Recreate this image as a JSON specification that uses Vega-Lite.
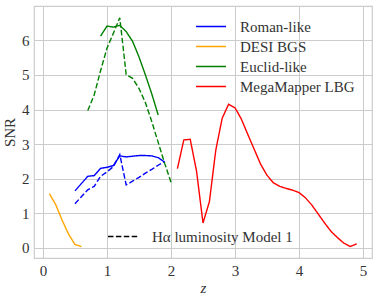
{
  "$schema": "https://vega.github.io/schema/vega-lite/v6.json",
  "width": 338,
  "height": 252,
  "autosize": "none",
  "padding": {"left": 34, "top": 6, "right": 7, "bottom": 41},
  "background": "white",
  "config": {
    "font": "Liberation Serif",
    "view": {"stroke": "#cccccc", "strokeWidth": 1.2},
    "axis": {
      "grid": true,
      "gridColor": "#cccccc",
      "gridWidth": 1,
      "domain": false,
      "ticks": false,
      "labelFontSize": 15,
      "labelColor": "#333333",
      "titleFontSize": 15,
      "titleColor": "#333333",
      "titleFontWeight": "normal"
    },
    "legend": {
      "labelFontSize": 15,
      "labelColor": "#333333",
      "padding": 0
    }
  },
  "data": {
    "values": [
      {"series": "Roman-like", "model": "fiducial", "z": 0.5, "snr": 1.65},
      {"series": "Roman-like", "model": "fiducial", "z": 0.6, "snr": 1.86},
      {"series": "Roman-like", "model": "fiducial", "z": 0.7, "snr": 2.07},
      {"series": "Roman-like", "model": "fiducial", "z": 0.8, "snr": 2.09},
      {"series": "Roman-like", "model": "fiducial", "z": 0.9, "snr": 2.3},
      {"series": "Roman-like", "model": "fiducial", "z": 1.0, "snr": 2.33},
      {"series": "Roman-like", "model": "fiducial", "z": 1.1, "snr": 2.38},
      {"series": "Roman-like", "model": "fiducial", "z": 1.2, "snr": 2.66},
      {"series": "Roman-like", "model": "fiducial", "z": 1.3, "snr": 2.63},
      {"series": "Roman-like", "model": "fiducial", "z": 1.4, "snr": 2.65},
      {"series": "Roman-like", "model": "fiducial", "z": 1.5, "snr": 2.67},
      {"series": "Roman-like", "model": "fiducial", "z": 1.6, "snr": 2.67},
      {"series": "Roman-like", "model": "fiducial", "z": 1.7, "snr": 2.66},
      {"series": "Roman-like", "model": "fiducial", "z": 1.8, "snr": 2.61},
      {"series": "Roman-like", "model": "fiducial", "z": 1.9, "snr": 2.48},
      {"series": "Roman-like", "model": "Hα luminosity Model 1", "z": 0.5, "snr": 1.28},
      {"series": "Roman-like", "model": "Hα luminosity Model 1", "z": 0.6, "snr": 1.48},
      {"series": "Roman-like", "model": "Hα luminosity Model 1", "z": 0.7, "snr": 1.68},
      {"series": "Roman-like", "model": "Hα luminosity Model 1", "z": 0.8, "snr": 1.78},
      {"series": "Roman-like", "model": "Hα luminosity Model 1", "z": 0.9, "snr": 2.07},
      {"series": "Roman-like", "model": "Hα luminosity Model 1", "z": 1.0, "snr": 2.2},
      {"series": "Roman-like", "model": "Hα luminosity Model 1", "z": 1.1, "snr": 2.35},
      {"series": "Roman-like", "model": "Hα luminosity Model 1", "z": 1.2, "snr": 2.7},
      {"series": "Roman-like", "model": "Hα luminosity Model 1", "z": 1.3, "snr": 1.82},
      {"series": "Roman-like", "model": "Hα luminosity Model 1", "z": 1.4, "snr": 1.93},
      {"series": "Roman-like", "model": "Hα luminosity Model 1", "z": 1.5, "snr": 2.04},
      {"series": "Roman-like", "model": "Hα luminosity Model 1", "z": 1.6, "snr": 2.16},
      {"series": "Roman-like", "model": "Hα luminosity Model 1", "z": 1.7, "snr": 2.27},
      {"series": "Roman-like", "model": "Hα luminosity Model 1", "z": 1.8, "snr": 2.39},
      {"series": "Roman-like", "model": "Hα luminosity Model 1", "z": 1.9, "snr": 2.5},
      {"series": "DESI BGS", "model": "fiducial", "z": 0.1, "snr": 1.57},
      {"series": "DESI BGS", "model": "fiducial", "z": 0.2, "snr": 1.25},
      {"series": "DESI BGS", "model": "fiducial", "z": 0.3, "snr": 0.8},
      {"series": "DESI BGS", "model": "fiducial", "z": 0.4, "snr": 0.4},
      {"series": "DESI BGS", "model": "fiducial", "z": 0.5, "snr": 0.1},
      {"series": "DESI BGS", "model": "fiducial", "z": 0.6, "snr": 0.04},
      {"series": "Euclid-like", "model": "fiducial", "z": 0.9, "snr": 6.12},
      {"series": "Euclid-like", "model": "fiducial", "z": 1.0, "snr": 6.41},
      {"series": "Euclid-like", "model": "fiducial", "z": 1.1, "snr": 6.38},
      {"series": "Euclid-like", "model": "fiducial", "z": 1.2, "snr": 6.43},
      {"series": "Euclid-like", "model": "fiducial", "z": 1.3, "snr": 6.25},
      {"series": "Euclid-like", "model": "fiducial", "z": 1.4, "snr": 5.97},
      {"series": "Euclid-like", "model": "fiducial", "z": 1.5, "snr": 5.52},
      {"series": "Euclid-like", "model": "fiducial", "z": 1.6, "snr": 5.0},
      {"series": "Euclid-like", "model": "fiducial", "z": 1.7, "snr": 4.45},
      {"series": "Euclid-like", "model": "fiducial", "z": 1.8, "snr": 3.84},
      {"series": "Euclid-like", "model": "Hα luminosity Model 1", "z": 0.7, "snr": 3.97},
      {"series": "Euclid-like", "model": "Hα luminosity Model 1", "z": 0.8, "snr": 4.42},
      {"series": "Euclid-like", "model": "Hα luminosity Model 1", "z": 0.9, "snr": 5.12},
      {"series": "Euclid-like", "model": "Hα luminosity Model 1", "z": 1.0, "snr": 5.77},
      {"series": "Euclid-like", "model": "Hα luminosity Model 1", "z": 1.1, "snr": 6.2},
      {"series": "Euclid-like", "model": "Hα luminosity Model 1", "z": 1.2, "snr": 6.65},
      {"series": "Euclid-like", "model": "Hα luminosity Model 1", "z": 1.3, "snr": 5.01},
      {"series": "Euclid-like", "model": "Hα luminosity Model 1", "z": 1.4, "snr": 4.9},
      {"series": "Euclid-like", "model": "Hα luminosity Model 1", "z": 1.5, "snr": 4.61},
      {"series": "Euclid-like", "model": "Hα luminosity Model 1", "z": 1.6, "snr": 4.2},
      {"series": "Euclid-like", "model": "Hα luminosity Model 1", "z": 1.7, "snr": 3.65},
      {"series": "Euclid-like", "model": "Hα luminosity Model 1", "z": 1.8, "snr": 3.05},
      {"series": "Euclid-like", "model": "Hα luminosity Model 1", "z": 1.9, "snr": 2.45},
      {"series": "Euclid-like", "model": "Hα luminosity Model 1", "z": 2.0, "snr": 1.9},
      {"series": "MegaMapper LBG", "model": "fiducial", "z": 2.1, "snr": 2.29},
      {"series": "MegaMapper LBG", "model": "fiducial", "z": 2.2, "snr": 3.12},
      {"series": "MegaMapper LBG", "model": "fiducial", "z": 2.3, "snr": 3.14},
      {"series": "MegaMapper LBG", "model": "fiducial", "z": 2.4, "snr": 2.21},
      {"series": "MegaMapper LBG", "model": "fiducial", "z": 2.5, "snr": 0.72},
      {"series": "MegaMapper LBG", "model": "fiducial", "z": 2.6, "snr": 1.34},
      {"series": "MegaMapper LBG", "model": "fiducial", "z": 2.7, "snr": 2.83},
      {"series": "MegaMapper LBG", "model": "fiducial", "z": 2.8, "snr": 3.75},
      {"series": "MegaMapper LBG", "model": "fiducial", "z": 2.9, "snr": 4.15},
      {"series": "MegaMapper LBG", "model": "fiducial", "z": 3.0, "snr": 4.05},
      {"series": "MegaMapper LBG", "model": "fiducial", "z": 3.1, "snr": 3.72},
      {"series": "MegaMapper LBG", "model": "fiducial", "z": 3.2, "snr": 3.28},
      {"series": "MegaMapper LBG", "model": "fiducial", "z": 3.3, "snr": 2.85},
      {"series": "MegaMapper LBG", "model": "fiducial", "z": 3.4, "snr": 2.42},
      {"series": "MegaMapper LBG", "model": "fiducial", "z": 3.5, "snr": 2.1},
      {"series": "MegaMapper LBG", "model": "fiducial", "z": 3.6, "snr": 1.88},
      {"series": "MegaMapper LBG", "model": "fiducial", "z": 3.7, "snr": 1.78},
      {"series": "MegaMapper LBG", "model": "fiducial", "z": 3.8, "snr": 1.72},
      {"series": "MegaMapper LBG", "model": "fiducial", "z": 3.9, "snr": 1.67},
      {"series": "MegaMapper LBG", "model": "fiducial", "z": 4.0, "snr": 1.6},
      {"series": "MegaMapper LBG", "model": "fiducial", "z": 4.1, "snr": 1.45},
      {"series": "MegaMapper LBG", "model": "fiducial", "z": 4.2, "snr": 1.24},
      {"series": "MegaMapper LBG", "model": "fiducial", "z": 4.3, "snr": 0.98},
      {"series": "MegaMapper LBG", "model": "fiducial", "z": 4.4, "snr": 0.72},
      {"series": "MegaMapper LBG", "model": "fiducial", "z": 4.5, "snr": 0.48},
      {"series": "MegaMapper LBG", "model": "fiducial", "z": 4.6, "snr": 0.3},
      {"series": "MegaMapper LBG", "model": "fiducial", "z": 4.7, "snr": 0.14},
      {"series": "MegaMapper LBG", "model": "fiducial", "z": 4.8, "snr": 0.04},
      {"series": "MegaMapper LBG", "model": "fiducial", "z": 4.9, "snr": 0.12}
    ]
  },
  "mark": {"type": "line", "strokeWidth": 1.4},
  "encoding": {
    "x": {
      "field": "z", "type": "quantitative",
      "scale": {"domain": [-0.14, 5.14], "nice": false, "zero": false},
      "axis": {"values": [0, 1, 2, 3, 4, 5], "title": "z", "titleFontStyle": "italic", "labelPadding": 5, "titlePadding": 2, "labelFlush": false}
    },
    "y": {
      "field": "snr", "type": "quantitative",
      "scale": {"domain": [-0.29, 6.99], "nice": false, "zero": false},
      "axis": {"values": [0, 1, 2, 3, 4, 5, 6], "title": "SNR", "labelPadding": 5, "titlePadding": 4, "labelFlush": false}
    },
    "color": {
      "field": "series", "type": "nominal",
      "scale": {"domain": ["Roman-like", "DESI BGS", "Euclid-like", "MegaMapper LBG"], "range": ["#0000ff", "#ffa500", "#008000", "#ff0000"]},
      "legend": {
        "title": null, "orient": "none", "legendX": 161, "legendY": 13,
        "symbolType": "stroke", "symbolSize": 900, "symbolStrokeWidth": 1.5,
        "clipHeight": 15, "rowPadding": 4, "labelOffset": 13
      }
    },
    "strokeDash": {
      "field": "model", "type": "nominal",
      "scale": {"domain": ["fiducial", "Hα luminosity Model 1"], "range": [[1, 0], [5.5, 2.4]]},
      "legend": {
        "title": null, "orient": "none", "legendX": 73, "legendY": 223,
        "values": ["Hα luminosity Model 1"],
        "symbolType": "stroke", "symbolSize": 961, "symbolStrokeWidth": 1.5, "symbolStrokeColor": "black",
        "clipHeight": 15, "labelOffset": 12
      }
    }
  }
}
